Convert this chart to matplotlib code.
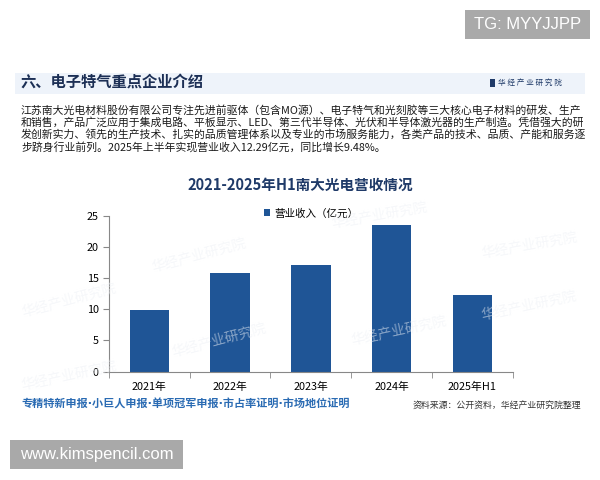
import matplotlib
matplotlib.use("Agg")
import matplotlib.pyplot as plt
from matplotlib.patches import Rectangle

plt.rcParams['font.family'] = ['Noto Sans CJK SC', 'DejaVu Sans']

""" Data """
years = ['2021年', '2022年', '2023年', '2024年', '2025年H1']
revenue = [9.83, 15.87, 17.03, 23.52, 12.29]
y_ticks = [0, 5, 10, 15, 20, 25]

heading = '六、电子特气重点企业介绍'
intro = [
    '江苏南大光电材料股份有限公司专注先进前驱体（包含MO源）、电子特气和光刻胶等三大核心电子材料的研发、生产',
    '和销售，产品广泛应用于集成电路、平板显示、LED、第三代半导体、光伏和半导体激光器的生产制造。凭借强大的研',
    '发创新实力、领先的生产技术、扎实的品质管理体系以及专业的市场服务能力，各类产品的技术、品质、产能和服务逐',
    '步跻身行业前列。2025年上半年实现营业收入12.29亿元，同比增长9.48%。',
]
chart_title = '2021-2025年H1南大光电营收情况'
series_name = '营业收入（亿元）'
footer_left = '专精特新申报·小巨人申报·单项冠军申报·市占率证明·市场地位证明'
footer_right = '资料来源：公开资料，华经产业研究院整理'

BAR = '#1f5596'
NAVY = '#1f3a68'

fig = plt.figure(figsize=(6, 4.8), dpi=100)
W, H = 600, 480

def fx(px):
    return px / W

def fy(py):
    return 1 - py / H

# heading band
fig.patches.append(Rectangle((fx(15), fy(94)), fx(570), 21 / H, transform=fig.transFigure,
                             facecolor='#eef3fa', edgecolor='none', zorder=0))
fig.text(fx(20), fy(83), heading, fontsize=11, fontweight='bold', color='#1c2f55', va='center')
fig.patches.append(Rectangle((fx(490), fy(87)), 5 / W, 8 / H, transform=fig.transFigure,
                             facecolor='#1f3a68', edgecolor='none'))
fig.text(fx(498), fy(83), '华 经 产 业 研 究 院', fontsize=5.5, color='#1f3a68', va='center')

# paragraph
for i, line in enumerate(intro):
    fig.text(fx(21), fy(110 + i * 12.3), line, fontsize=7.8, color='#1a1a1a', va='center')

# chart title
fig.text(fx(300), fy(185), chart_title, fontsize=10.5, fontweight='bold', color=NAVY,
         ha='center', va='center')

# faint watermarks
for (x, y, r) in [(150, 255, 15), (330, 215, 10), (480, 245, 10), (20, 300, 15),
                  (170, 340, 15), (350, 330, 12), (480, 305, 12), (20, 375, 12)]:
    fig.text(fx(x), fy(y), '华经产业研究院', fontsize=10, color='#edf0f5', rotation=r,
             ha='left', va='center', alpha=0.5, zorder=0)

ax = fig.add_axes([fx(109), fy(371.7), fx(512.7) - fx(109), (371.7 - 215.7) / H])
ax.patch.set_alpha(0)
xs = range(len(years))
ax.bar(xs, revenue, width=0.49, color=BAR, label=series_name)
ax.set_xlim(-0.5, len(years) - 0.5)
ax.set_ylim(0, 25)
ax.set_yticks(y_ticks)
ax.set_xticks(list(xs))
ax.set_xticklabels(years)
ax.set_xticks([i - 0.5 for i in range(len(years) + 1)], minor=True)
ax.tick_params(axis='x', which='major', length=0, labelsize=7.8, pad=7)
ax.tick_params(axis='x', which='minor', length=4, color='#888888', direction='out')
ax.tick_params(axis='y', length=4, color='#888888', labelsize=7.8, direction='out')
for s in ['top', 'right']:
    ax.spines[s].set_visible(False)
for s in ['left', 'bottom']:
    ax.spines[s].set_color('#888888')
ax.legend(loc='upper center', bbox_to_anchor=(0.5, 1.11), frameon=False, fontsize=7.6,
          handlelength=0.6, handleheight=0.6, handletextpad=0.4)

# footer
fig.text(fx(21), fy(404), footer_left, fontsize=8, fontweight='bold', color='#2a6bb3', va='center',
         family=['DejaVu Sans', 'Noto Sans CJK SC'])
fig.text(fx(413), fy(405), footer_right, fontsize=6.4, color='#333333', ha='left', va='center')

# overlay stamps
fig.patches.append(Rectangle((fx(465), fy(39)), 125 / W, 29 / H, transform=fig.transFigure,
                             facecolor='#a9a9a9', edgecolor='none'))
fig.text(fx(527.5), fy(24.5), 'TG: MYYJJPP', fontsize=12, color='white', ha='center', va='center',
         family='Liberation Sans')
fig.patches.append(Rectangle((fx(10), fy(469)), 173 / W, 29 / H, transform=fig.transFigure,
                             facecolor='#a9a9a9', edgecolor='none'))
fig.text(fx(96.5), fy(454.5), 'www.kimspencil.com', fontsize=12, color='white', ha='center', va='center',
         family='Liberation Sans')

fig.savefig('out.png', dpi=100)
